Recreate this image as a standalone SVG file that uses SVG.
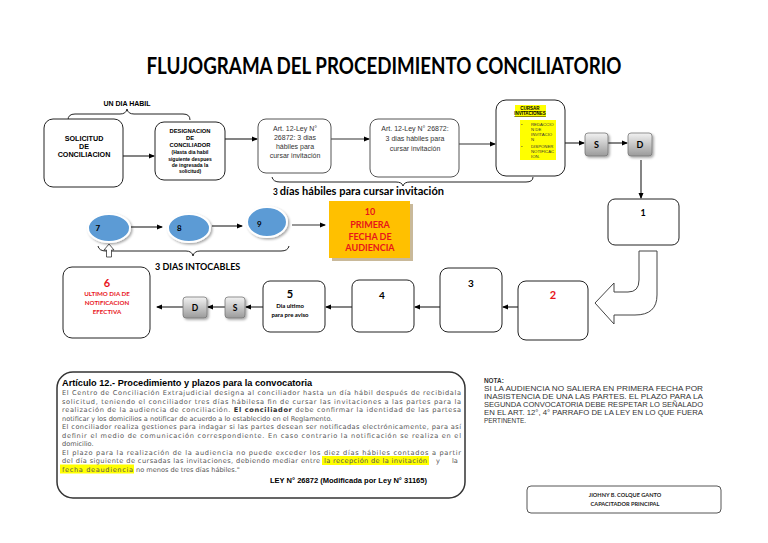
<svg xmlns="http://www.w3.org/2000/svg" width="768" height="543" viewBox="0 0 768 543">
<defs>
<marker id="ah" markerWidth="6" markerHeight="6" refX="5" refY="3" orient="auto" markerUnits="userSpaceOnUse"><path d="M0,0.5 L6,3 L0,5.5 Z" fill="#000"/></marker>
<linearGradient id="gg" x1="0" y1="0" x2="0" y2="1"><stop offset="0" stop-color="#f2f2f2"/><stop offset="1" stop-color="#9a9a9a"/></linearGradient>
<filter id="sh" x="-20%" y="-20%" width="150%" height="150%"><feDropShadow dx="1.5" dy="1.5" stdDeviation="1" flood-color="#000" flood-opacity="0.35"/></filter>
</defs>
<style>
.box{fill:#fff;stroke:#222;stroke-width:1}
.gbox{fill:#fff;stroke:#555;stroke-width:1}
.sd{fill:url(#gg);stroke:#777;stroke-width:0.8}
.con{fill:none;stroke:#333;stroke-width:1.2}
.ar{font-family:"Liberation Sans",Arial,sans-serif}
.ca{font-family:Lato,"Open Sans",sans-serif}
.b{font-weight:bold}
.c{text-anchor:middle}
.red{fill:#e8141b}
.para{font-family:"DejaVu Sans",sans-serif;font-size:6.6px;fill:#555}
.nota{font-family:"Liberation Sans",Arial,sans-serif;font-size:6.4px;fill:#333}
.circ{fill:#5b9bd5;stroke:#fff;stroke-width:2}
.brace{fill:none;stroke:#222;stroke-width:1}
</style>
<rect width="768" height="543" fill="#fff"/>
<text class="ca b c" x="384" y="74" font-size="22" textLength="475" lengthAdjust="spacingAndGlyphs">FLUJOGRAMA DEL PROCEDIMIENTO CONCILIATORIO</text>

<!-- braces & labels -->
<text class="ar b c" x="127" y="106" font-size="7">UN DIA HABIL</text>
<path class="brace" d="M68 120 Q68 114 75 114 L120 114 Q126 114 127 109 Q128 114 134 114 L183 114 Q190 114 190 120"/>
<path class="brace" d="M272 177 Q273 182 280 182 L396 182 Q402 182 403 186 Q404 182 410 182 L526 182 Q533 182 533 177"/>
<text class="ca b" x="273" y="195" font-size="12" textLength="171" lengthAdjust="spacingAndGlyphs"><tspan font-size="9">3 </tspan>días hábiles para cursar invitación</text>
<path class="brace" d="M98 246 Q99 251 106 251 L186 251 Q192 251 193 256 Q194 251 200 251 L281 251 Q288 251 289 246"/>
<path d="M109 244 L114 250 L111.5 250 L111.5 257 L106.5 257 L106.5 250 L104 250 Z" fill="#fff" stroke="#333" stroke-width="0.8"/>
<text class="ca b" x="155" y="270" font-size="9">3 DIAS INTOCABLES</text>

<g id="connectors">
<path class="con" d="M123 156 L154 156" marker-end="url(#ah)"/>
<path class="con" d="M225 139 L257 139" marker-end="url(#ah)"/>
<path class="con" d="M331 139 L369 139" marker-end="url(#ah)"/>
<path class="con" d="M459 144 L495 144" marker-end="url(#ah)"/>
<path class="con" d="M565 143 L584 143" marker-end="url(#ah)"/>
<path class="con" d="M608 143 L627 143" marker-end="url(#ah)"/>
<path class="con" d="M641 160 L641 198" marker-end="url(#ah)"/>
<path class="con" d="M518 307 L503 307" marker-end="url(#ah)"/>
<path class="con" d="M440 307 L415 307" marker-end="url(#ah)"/>
<path class="con" d="M352 307 L326 307" marker-end="url(#ah)"/>
<path class="con" d="M263 307 L246 307" marker-end="url(#ah)"/>
<path class="con" d="M225 307 L208 307" marker-end="url(#ah)"/>
<path class="con" d="M183 307 L157 307" marker-end="url(#ah)"/>
<path class="con" d="M131 227 L162 227" marker-end="url(#ah)"/>
<path class="con" d="M212 226 L242 226" marker-end="url(#ah)"/>
<path class="con" d="M292 225 L325 225" marker-end="url(#ah)"/>
<path d="M639 251 L657 251 L657 295 Q657 315 635 315 L614 315 L614 324 L595 303 L614 283 L614 292 L628 292 Q639 292 639 280 Z" fill="#fff" stroke="#444" stroke-width="1"/>
</g>

<g id="solicitud">
<rect class="box" x="44" y="119" width="79" height="68" rx="9"/>
<text class="ar b c" font-size="7.2"><tspan x="84" y="141">SOLICITUD</tspan><tspan x="84" y="149">DE</tspan><tspan x="84" y="157">CONCILIACION</tspan></text>
</g>
<g id="designacion">
<rect class="box" x="155" y="122" width="70" height="58" rx="9"/>
<text class="ar b c" font-size="5.8"><tspan x="190" y="133">DESIGNACION</tspan><tspan x="190" y="140">DE</tspan><tspan x="190" y="147">CONCILIADOR</tspan></text>
<text class="ar b c" font-size="5"><tspan x="190" y="154">(Hasta dia habil</tspan><tspan x="190" y="161">siguiente despues</tspan><tspan x="190" y="167">de ingresada la</tspan><tspan x="190" y="173">solicitud)</tspan></text>
</g>
<g id="art1">
<rect class="gbox" x="258" y="119" width="73" height="54" rx="8"/>
<text class="ar c" font-size="7" fill="#333"><tspan x="295" y="131">Art. 12-Ley N°</tspan><tspan x="295" y="140">26872: 3 dias</tspan><tspan x="295" y="149">hábiles para</tspan><tspan x="295" y="158">cursar invitación</tspan></text>
</g>
<g id="art2">
<rect class="gbox" x="370" y="119" width="89" height="58" rx="8"/>
<text class="ar c" font-size="7" fill="#333"><tspan x="415" y="131">Art. 12-Ley N° 26872:</tspan><tspan x="415" y="141">3 dias hábiles para</tspan><tspan x="415" y="151">cursar invitación</tspan></text>
</g>
<g id="cursar">
<rect class="box" x="496" y="100" width="69" height="76" rx="10"/>
<rect x="515" y="105" width="31" height="12" fill="#ffff00"/>
<rect x="520" y="120" width="36" height="40" fill="#ffff00"/>
<text class="ar b c" font-size="4.5" text-decoration="underline"><tspan x="530" y="110">CURSAR</tspan><tspan x="530" y="115">INVITACIONES</tspan></text>
<text class="ar" font-size="4.3" fill="#333"><tspan x="521" y="126">•</tspan><tspan x="531" y="126">REDACCIO</tspan><tspan x="531" y="131">N DE</tspan><tspan x="531" y="136">INVITACIO</tspan><tspan x="531" y="141">N</tspan><tspan x="521" y="148">•</tspan><tspan x="531" y="148">DISPONER</tspan><tspan x="531" y="153">NOTIFICAC</tspan><tspan x="531" y="158">ION.</tspan></text>
</g>
<g id="s1"><rect class="sd" x="585" y="133" width="23" height="23" rx="3" filter="url(#sh)"/><text class="ca b c" x="596.5" y="148" font-size="9">S</text></g>
<g id="d1"><rect class="sd" x="628" y="133" width="24" height="23" rx="3" filter="url(#sh)"/><text class="ca b c" x="640" y="148" font-size="9">D</text></g>
<g id="n1"><rect class="box" x="608" y="199" width="71" height="46" rx="7"/><text class="ca b c" x="643" y="216" font-size="9">1</text></g>
<g id="n2"><rect class="box" x="518" y="281" width="70" height="59" rx="8"/><text class="ca b c red" x="553" y="299" font-size="11">2</text></g>
<g id="n3"><rect class="box" x="440" y="268" width="62" height="64" rx="8"/><text class="ca b c" x="471" y="287" font-size="10">3</text></g>
<g id="n4"><rect class="box" x="352" y="280" width="62" height="52" rx="7"/><text class="ca b c" x="382" y="299" font-size="10">4</text></g>
<g id="n5"><rect class="box" x="263" y="281" width="62" height="51" rx="7"/><text class="ca b c" x="290" y="298" font-size="11">5</text><text class="ca b c" font-size="6"><tspan x="290" y="308">Dia ultimo</tspan><tspan x="290" y="317">para pre aviso</tspan></text></g>
<g id="s2"><rect class="sd" x="225" y="297" width="20" height="21" rx="3" filter="url(#sh)"/><text class="ca b c" x="235" y="311" font-size="8.5">S</text></g>
<g id="d2"><rect class="sd" x="183" y="297" width="24" height="21" rx="3" filter="url(#sh)"/><text class="ca b c" x="195" y="311" font-size="8.5">D</text></g>
<g id="n6"><rect class="box" x="63" y="267" width="87" height="71" rx="9"/><text class="ca b c red" x="107" y="287" font-size="11">6</text><text class="ca b c red" font-size="6.2"><tspan x="107" y="296">ULTIMO DIA DE</tspan><tspan x="107" y="305">NOTIFICACION</tspan><tspan x="107" y="314">EFECTIVA</tspan></text></g>
<g id="c7"><ellipse class="circ" cx="109" cy="228" rx="21" ry="14" filter="url(#sh)"/><text class="ca b" x="95.5" y="231" font-size="8">7</text></g>
<g id="c8"><ellipse class="circ" cx="189" cy="228" rx="21" ry="14" filter="url(#sh)"/><text class="ca b" x="177" y="231" font-size="8">8</text></g>
<g id="c9"><ellipse class="circ" cx="267" cy="222" rx="20" ry="15" filter="url(#sh)"/><text class="ca b" x="257" y="227" font-size="8">9</text></g>
<g id="n10">
<rect x="332" y="204" width="81" height="57" fill="#c9b99a"/>
<rect x="329" y="201" width="81" height="57" fill="#ffc000"/>
<text class="ca b c red" font-size="9"><tspan x="370" y="215">10</tspan><tspan x="370" y="228">PRIMERA</tspan><tspan x="370" y="240">FECHA DE</tspan><tspan x="370" y="251">AUDIENCIA</tspan></text>
</g>

<g id="articulo">
<rect x="57" y="372" width="408" height="126" rx="16" fill="#fff" stroke="#333" stroke-width="1.5"/>
<text class="ar b" x="62" y="386" font-size="9.2">Artículo 12.- Procedimiento y plazos para la convocatoria</text>
<rect x="322" y="456" width="107" height="9" fill="#ffff00"/>
<rect x="60" y="464.5" width="74" height="9" fill="#ffff00"/>
<text class="para" x="62" y="395" textLength="399" lengthAdjust="spacing">El Centro de Conciliación Extrajudicial designa al conciliador hasta un día hábil después de recibidala</text>
<text class="para" x="62" y="403.5" textLength="399" lengthAdjust="spacing">solicitud, teniendo el conciliador tres días hábilesa fin de cursar las invitaciones a las partes para la</text>
<text class="para" x="62" y="412" textLength="399" lengthAdjust="spacing">realización de la audiencia de conciliación. <tspan font-weight="bold" fill="#333">El conciliador</tspan> debe confirmar la identidad de las partesa</text>
<text class="para" x="62" y="420.5">notificar y los domicilios a notificar de acuerdo a lo establecido en el Reglamento.</text>
<text class="para" x="62" y="429" textLength="399" lengthAdjust="spacing">El conciliador realiza gestiones para indagar si las partes desean ser notificadas electrónicamente, para así</text>
<text class="para" x="62" y="437.5" textLength="399" lengthAdjust="spacing">definir el medio de comunicación correspondiente. En caso contrario la notificación se realiza en el</text>
<text class="para" x="62" y="446">domicilio.</text>
<text class="para" x="62" y="454.5" textLength="399" lengthAdjust="spacing">El plazo para la realización de la audiencia no puede exceder los diez días hábiles contados a partir</text>
<text class="para" x="62" y="463" textLength="258" lengthAdjust="spacing">del día siguiente de cursadas las invitaciones, debiendo mediar entre</text>
<text class="para" x="324" y="463" textLength="103" lengthAdjust="spacing">la recepción de la invitación</text>
<text class="para" y="463"><tspan x="436">y</tspan><tspan x="452">la</tspan></text>
<text class="para" x="62" y="471.5" textLength="71" lengthAdjust="spacing">fecha deaudiencia</text>
<text class="para" x="136" y="471.5">no menos de tres días hábiles."</text>
<text class="ar b" x="270" y="483" font-size="7" textLength="157" lengthAdjust="spacingAndGlyphs">LEY N° 26872 (Modificada por Ley N° 31165)</text>
</g>

<g id="nota">
<text class="nota b" x="484" y="383">NOTA:</text>
<text class="nota" x="484" y="391" textLength="219" lengthAdjust="spacingAndGlyphs">SI LA AUDIENCIA NO SALIERA EN PRIMERA FECHA POR</text>
<text class="nota" x="484" y="399" textLength="219" lengthAdjust="spacingAndGlyphs">INASISTENCIA DE UNA LAS PARTES. EL PLAZO PARA LA</text>
<text class="nota" x="484" y="407" textLength="219" lengthAdjust="spacingAndGlyphs">SEGUNDA CONVOCATORIA DEBE RESPETAR LO SEÑALADO</text>
<text class="nota" x="484" y="415" textLength="219" lengthAdjust="spacingAndGlyphs">EN EL ART. 12°, 4° PARRAFO DE LA LEY EN LO QUE FUERA</text>
<text class="nota" x="484" y="423">PERTINENTE.</text>
</g>

<g id="firma">
<rect x="527" y="486" width="194" height="27" rx="4" fill="#fff" stroke="#555" stroke-width="1"/>
<text class="ca b c" font-size="5.6" fill="#222"><tspan x="625" y="497">JIOHNY B. COLQUE GANTO</tspan><tspan x="625" y="506">CAPACITADOR PRINCIPAL</tspan></text>
</g>
</svg>
